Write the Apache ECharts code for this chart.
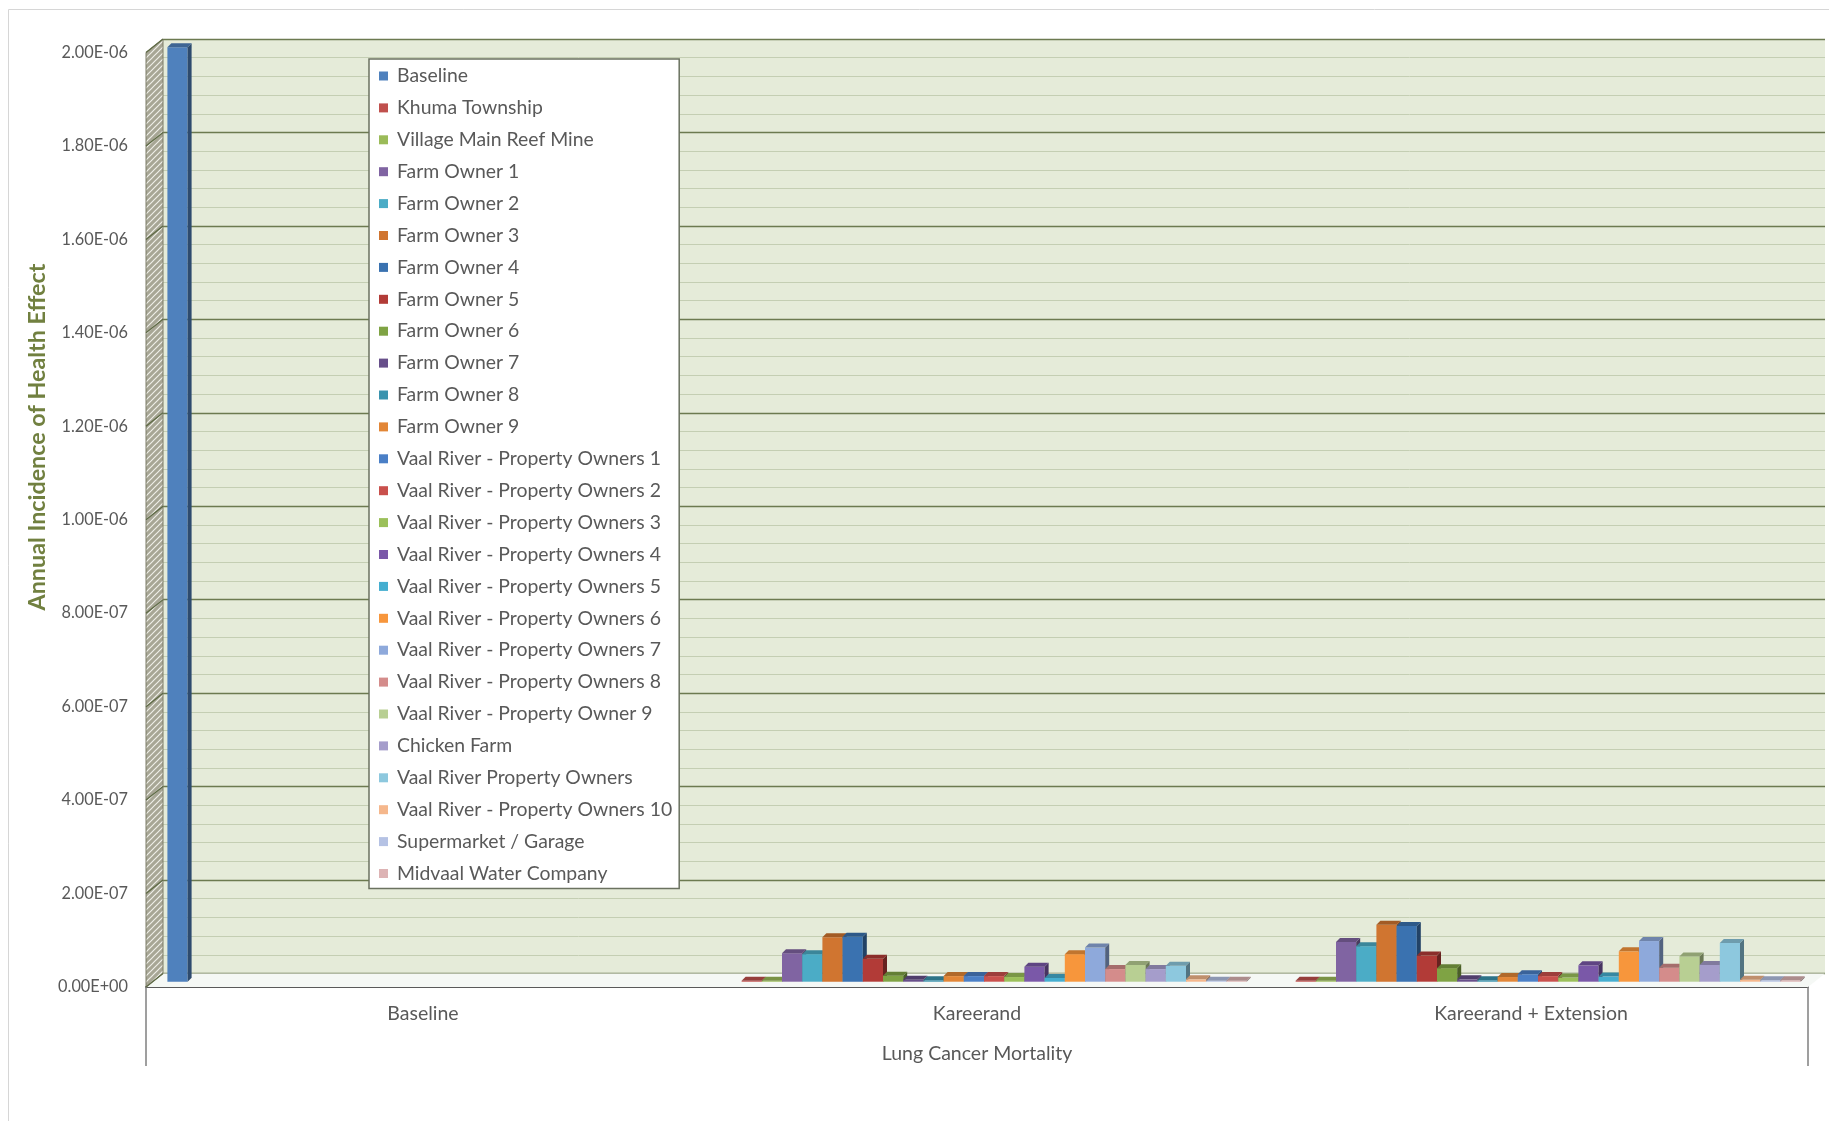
<!DOCTYPE html>
<html>
<head>
<meta charset="utf-8">
<script src="https://cdn.jsdelivr.net/npm/echarts@6/dist/echarts.min.js"></script>
<style>
  html, body { margin: 0; padding: 0; background: #ffffff; }
  #chart { width: 1829px; height: 1121px; }
</style>
</head>
<body>
<div id="chart"></div>
<script>
// ---- data ----
const categories = ['Baseline', 'Kareerand', 'Kareerand + Extension'];
const groupLabel = 'Lung Cancer Mortality';
const axisTitle = 'Annual Incidence of Health Effect';

const seriesNames = [
  'Baseline', 'Khuma Township', 'Village Main Reef Mine',
  'Farm Owner 1', 'Farm Owner 2', 'Farm Owner 3', 'Farm Owner 4', 'Farm Owner 5',
  'Farm Owner 6', 'Farm Owner 7', 'Farm Owner 8', 'Farm Owner 9',
  'Vaal River - Property Owners 1', 'Vaal River - Property Owners 2',
  'Vaal River - Property Owners 3', 'Vaal River - Property Owners 4',
  'Vaal River - Property Owners 5', 'Vaal River - Property Owners 6',
  'Vaal River - Property Owners 7', 'Vaal River - Property Owners 8',
  'Vaal River - Property Owner 9', 'Chicken Farm', 'Vaal River Property Owners',
  'Vaal River - Property Owners 10', 'Supermarket / Garage', 'Midvaal Water Company'
];

const seriesColors = [
  '#4F81BD', '#C0504D', '#9BBB59',
  '#8064A2', '#4BACC6', '#D07530', '#3A72B0', '#B23B37',
  '#7FA344', '#674F8A', '#3A93AE', '#E28636',
  '#4A7FC6', '#C9504C', '#9BC05A', '#7A58A8',
  '#45AED0', '#F7963C', '#8EA9DB', '#D48C8B',
  '#B8CF93', '#A59DCB', '#8DC8DE', '#F5B78C', '#B5C2E4', '#DDB3B4'
];

// one value per series, in the order of seriesNames
const baselineValues = [
  2.0e-6, null, null,
  null, null, null, null, null, null, null, null, null,
  null, null, null, null, null, null, null, null, null,
  null, null, null, null, null
];
const kareerandValues = [
  null, 2e-9, 2e-9,
  6.1e-8, 5.9e-8, 9.5e-8, 9.6e-8, 4.9e-8, 1.3e-8, 4e-9, 3e-9, 1.2e-8,
  1.2e-8, 1.2e-8, 1.0e-8, 3.2e-8, 8e-9, 5.9e-8, 7.3e-8, 2.7e-8, 3.6e-8,
  2.7e-8, 3.4e-8, 5e-9, 2e-9, 2e-9
];
const extensionValues = [
  null, 2e-9, 2e-9,
  8.5e-8, 7.6e-8, 1.22e-7, 1.19e-7, 5.6e-8, 2.9e-8, 5e-9, 3e-9, 1.0e-8,
  1.6e-8, 1.2e-8, 9e-9, 3.5e-8, 1.1e-8, 6.5e-8, 8.7e-8, 3.0e-8, 5.4e-8,
  3.6e-8, 8.3e-8, 4e-9, 3e-9, 3e-9
];

const yMin = 0, yMax = 2e-6, yStep = 2e-7;

// ---- drawing helpers ----
const FONT = "Lato, 'Liberation Sans', sans-serif";
const TEXT = '#595959';
const WALL_DX = 17, WALL_DY = -13.5;   // depth of the 3-D box (front plane -> back wall)
const BAR_SHIFT_X = 7, BAR_SHIFT_Y = -5.3; // bar row sits part way into the depth
const BAR_DEPTH = 4;
const BAR_GAP = 0.052;                  // share of each category band left empty

function sci(v) {
  if (v === 0) return '0.00E+00';
  const parts = v.toExponential(2).split('e');
  const e = parseInt(parts[1], 10);
  return parts[0] + 'E' + (e < 0 ? '-' : '+') + String(Math.abs(e)).padStart(2, '0');
}

function shade(hex, k) {
  const n = parseInt(hex.slice(1), 16);
  let r = (n >> 16) & 255, g = (n >> 8) & 255, b = n & 255;
  const f = c => Math.round(k < 0 ? c * (1 + k) : c + (255 - c) * k);
  return 'rgb(' + f(r) + ',' + f(g) + ',' + f(b) + ')';
}

function hatchCanvas() {
  const c = document.createElement('canvas');
  c.width = 6; c.height = 6;
  const g = c.getContext('2d');
  g.fillStyle = '#a7a695';
  g.fillRect(0, 0, 6, 6);
  g.strokeStyle = 'rgba(242,242,236,0.95)';
  g.lineWidth = 1.2;
  g.beginPath();
  g.moveTo(0, 6); g.lineTo(6, 0);
  g.moveTo(-1, 1); g.lineTo(1, -1);
  g.moveTo(5, 7); g.lineTo(7, 5);
  g.stroke();
  return c;
}
const hatch = hatchCanvas();

function renderBar(params, api) {
  const v = api.value(1);
  if (v == null || isNaN(v)) return null;
  const cat = api.value(0);
  const band = api.size([1, 0])[0];
  const used = band * (1 - BAR_GAP);
  const slot = used / seriesNames.length;
  const base = api.coord([cat, 0]);
  const top = api.coord([cat, v]);
  const x0 = base[0] - used / 2 + params.seriesIndex * slot + BAR_SHIFT_X;
  const x1 = x0 + slot;
  const yb = base[1] + BAR_SHIFT_Y;
  const yt = Math.min(top[1] + BAR_SHIFT_Y, yb - 0.8);
  const d = BAR_DEPTH;
  const color = api.visual('color');
  return {
    type: 'group',
    children: [
      { type: 'rect', shape: { x: x0, y: yt, width: slot, height: yb - yt },
        style: { fill: color } },
      { type: 'polygon', shape: { points: [[x1, yt], [x1 + d, yt - d], [x1 + d, yb - d], [x1, yb]] },
        style: { fill: shade(color, -0.42) } },
      { type: 'polygon', shape: { points: [[x0, yt], [x1, yt], [x1 + d, yt - d], [x0 + d, yt - d]] },
        style: { fill: shade(color, -0.22) } }
    ]
  };
}

// floor and left side wall of the 3-D box, built from the front grid
function renderWalls(params, api) {
  const cs = params.coordSys;
  const L = cs.x, R = cs.x + cs.width, T = cs.y, B = cs.y + cs.height;
  const children = [
    { type: 'polygon',
      shape: { points: [[L, B], [R, B], [R + WALL_DX, B + WALL_DY], [L + WALL_DX, B + WALL_DY]] },
      style: { fill: '#f5f8f5' } },
    { type: 'polygon',
      shape: { points: [[L, B], [L, T], [L + WALL_DX, T + WALL_DY], [L + WALL_DX, B + WALL_DY]] },
      style: { fill: { image: hatch, repeat: 'repeat' }, stroke: '#7c7d68', lineWidth: 1 } }
  ];
  for (let v = yMin; v <= yMax + yStep / 2; v += yStep) {
    const y = api.coord([0, v])[1];
    children.push({ type: 'line',
      shape: { x1: L, y1: y, x2: L + WALL_DX, y2: y + WALL_DY },
      style: { stroke: '#5e6a45', lineWidth: 1.3 } });
  }
  return { type: 'group', children: children };
}

const barSeries = seriesNames.map((name, i) => ({
  name: name,
  type: 'custom',
  xAxisIndex: 0,
  yAxisIndex: 0,
  z: 3,
  itemStyle: { color: seriesColors[i] },
  renderItem: renderBar,
  encode: { x: 0, y: 1 },
  data: [
    [0, baselineValues[i]],
    [1, kareerandValues[i]],
    [2, extensionValues[i]]
  ].filter(d => d[1] != null)
}));

const option = {
  animation: false,
  backgroundColor: '#ffffff',
  textStyle: { fontFamily: FONT },
  grid: [
    // front plane: carries the axes and the bars
    { left: 146, right: 21, top: 52.5, bottom: 134 },
    // back wall
    { left: 146 + WALL_DX, right: 21 - WALL_DX, top: 52.5 + WALL_DY, bottom: 134 - WALL_DY,
      show: true, backgroundColor: '#e5ebd9', borderWidth: 0 }
  ],
  xAxis: [
    { type: 'category', gridIndex: 0, data: categories,
      axisLine: { show: true, lineStyle: { color: '#5a5a5a', width: 2 } },
      axisTick: { show: false },
      axisLabel: { margin: 17, fontSize: 19.5, color: TEXT, fontFamily: FONT } },
    { type: 'category', gridIndex: 0, data: [groupLabel], position: 'bottom',
      axisLine: { show: false },
      axisTick: { show: true, length: 79, lineStyle: { color: '#808080', width: 1.5 } },
      axisLabel: { margin: 57, fontSize: 19.5, color: TEXT, fontFamily: FONT } },
    { type: 'category', gridIndex: 1, data: categories, show: false }
  ],
  yAxis: [
    { type: 'value', gridIndex: 0, min: yMin, max: yMax, interval: yStep,
      axisLine: { show: false }, axisTick: { show: false }, splitLine: { show: false },
      axisLabel: { margin: 18, fontSize: 16.3, color: TEXT, fontFamily: FONT, formatter: sci } },
    { type: 'value', gridIndex: 1, min: yMin, max: yMax, interval: yStep,
      axisLine: { show: false }, axisTick: { show: false }, axisLabel: { show: false },
      splitLine: { show: true, lineStyle: { color: '#6c7a50', width: 1.4 } },
      minorTick: { show: false, splitNumber: 5 },
      minorSplitLine: { show: true, lineStyle: { color: '#c4ceb3', width: 1 } } }
  ],
  legend: {
    data: seriesNames,
    orient: 'vertical',
    left: 369, top: 59,
    padding: [7, 7, 5, 10],
    icon: 'rect',
    itemWidth: 9, itemHeight: 9,
    itemGap: 11.9,
    backgroundColor: '#ffffff',
    borderColor: '#6b7260', borderWidth: 1.5, borderRadius: 0,
    textStyle: { fontSize: 19.4, color: TEXT, fontFamily: FONT, lineHeight: 20, padding: [0, 0, 0, 4] }
  },
  graphic: [
    { type: 'rect', silent: true, z: -10,
      shape: { x: 8.5, y: 9.5, width: 1900, height: 1200 },
      style: { fill: 'none', stroke: '#d6d6d6', lineWidth: 1 } },
    { type: 'text', x: 37, y: 437, rotation: Math.PI / 2,
      style: { text: axisTitle, align: 'center', verticalAlign: 'middle',
               font: 'bold 23.3px ' + FONT, fill: '#718040' } }
  ],
  series: barSeries.concat([{
    name: 'walls',
    type: 'custom',
    xAxisIndex: 0,
    yAxisIndex: 0,
    silent: true,
    z: 1,
    renderItem: renderWalls,
    data: [[0, 0]]
  }])
};

const chart = echarts.init(document.getElementById('chart'), null, { renderer: 'canvas' });
chart.setOption(option);
</script>
</body>
</html>
